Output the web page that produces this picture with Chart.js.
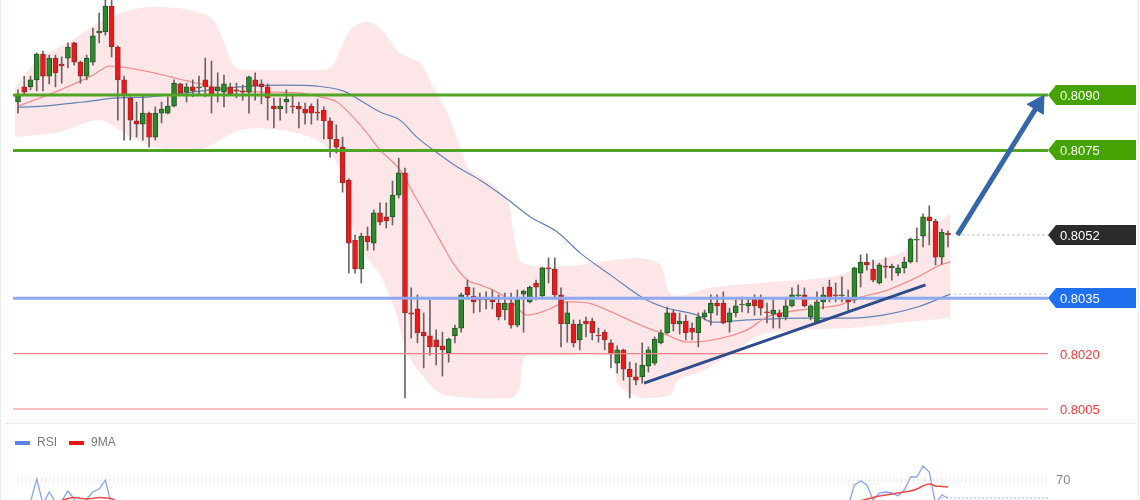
<!DOCTYPE html>
<html>
<head>
<meta charset="utf-8">
<script src="https://cdn.jsdelivr.net/npm/chart.js@4.4.1/dist/chart.umd.min.js"></script>
<style>
html,body{margin:0;padding:0;background:#fff;}
#wrap{position:relative;width:1140px;height:500px;overflow:hidden;background:#fff;}
#c1{position:absolute;left:0;top:0;}
#c2{position:absolute;left:0;top:424px;}
.edgeL{position:absolute;left:0;top:0;width:1px;height:500px;background:#e4ece4;}
.edgeR{position:absolute;left:1138px;top:0;width:1px;height:500px;background:#e4ece4;}
.sep{position:absolute;left:6px;width:1130px;top:423px;border-top:1px dotted #e2d4d4;}
.sw{position:absolute;top:441px;width:15px;height:4px;}
.lt{position:absolute;top:435px;font:12px "Liberation Sans",Arial,sans-serif;color:#777;}
</style>
</head>
<body>
<div id="wrap">
<canvas id="c1" width="1140" height="424"></canvas>
<canvas id="c2" width="1140" height="76"></canvas>
<div class="edgeL"></div><div class="edgeR"></div>
<div class="sep"></div>
<div class="sw" style="left:15px;background:#5b84e8;"></div><div class="lt" style="left:37px;">RSI</div>
<div class="sw" style="left:69px;background:#ee1111;"></div><div class="lt" style="left:91px;">9MA</div>
</div>
<script>
// ---------- candle data (index 1..150) ----------
const openP = [0.80881,0.80922,0.80922,0.80941,0.81011,0.80951,0.81000,0.80984,0.81000,0.81041,
0.80989,0.80951,0.80989,0.81068,0.81071,0.81141,0.81030,0.80941,0.80892,0.80830,
0.80821,0.80851,0.80786,0.80851,0.80851,0.80870,0.80930,0.80908,0.80922,0.80919,
0.80941,0.80922,0.80911,0.80908,0.80922,0.80914,0.80911,0.80908,0.80941,0.80930,
0.80922,0.80870,0.80862,0.80881,0.80870,0.80870,0.80862,0.80870,0.80854,0.80859,
0.80830,0.80781,0.80759,0.80670,0.80507,0.80429,0.80518,0.80499,0.80581,0.80570,
0.80570,0.80629,0.80689,0.80310,0.80321,0.80258,0.80248,0.80237,0.80221,0.80202,
0.80248,0.80269,0.80380,0.80356,0.80348,0.80345,0.80350,0.80337,0.80318,0.80337,
0.80277,0.80361,0.80340,0.80391,0.80356,0.80432,0.80429,0.80359,0.80280,0.80280,
0.80237,0.80288,0.80288,0.80250,0.80258,0.80229,0.80174,0.80210,0.80158,0.80137,
0.80137,0.80166,0.80174,0.80229,0.80256,0.80310,0.80280,0.80288,0.80269,0.80256,
0.80299,0.80310,0.80337,0.80337,0.80285,0.80310,0.80332,0.80329,0.80348,0.80348,
0.80313,0.80307,0.80310,0.80299,0.80329,0.80356,0.80359,0.80299,0.80285,0.80340,
0.80380,0.80359,0.80356,0.80348,0.80345,0.80418,0.80448,0.80429,0.80391,0.80437,
0.80432,0.80418,0.80432,0.80448,0.80507,0.80518,0.80570,0.80559,0.80461,0.80526];
const highP = [0.80914,0.80951,0.80951,0.81014,0.81019,0.81008,0.81008,0.81003,0.81041,0.81043,
0.80992,0.81008,0.81081,0.81122,0.81157,0.81157,0.81033,0.80951,0.80895,0.80881,
0.80900,0.80854,0.80868,0.80881,0.80895,0.80941,0.80932,0.80932,0.80941,0.80951,
0.81000,0.80992,0.80960,0.80954,0.80932,0.80932,0.80927,0.80951,0.80960,0.80941,
0.80930,0.80892,0.80892,0.80914,0.80903,0.80881,0.80878,0.80876,0.80889,0.80868,
0.80838,0.80819,0.80786,0.80673,0.80521,0.80526,0.80543,0.80589,0.80608,0.80608,
0.80667,0.80729,0.80702,0.80378,0.80359,0.80310,0.80345,0.80264,0.80258,0.80242,
0.80277,0.80364,0.80399,0.80378,0.80364,0.80367,0.80372,0.80359,0.80364,0.80364,
0.80372,0.80372,0.80383,0.80399,0.80434,0.80459,0.80459,0.80378,0.80340,0.80291,
0.80291,0.80299,0.80296,0.80269,0.80264,0.80237,0.80221,0.80212,0.80177,0.80174,
0.80229,0.80218,0.80245,0.80264,0.80326,0.80318,0.80310,0.80304,0.80283,0.80310,
0.80318,0.80359,0.80359,0.80367,0.80323,0.80345,0.80353,0.80350,0.80359,0.80359,
0.80337,0.80345,0.80318,0.80353,0.80378,0.80386,0.80378,0.80332,0.80367,0.80380,
0.80399,0.80391,0.80407,0.80372,0.80434,0.80467,0.80470,0.80453,0.80445,0.80459,
0.80442,0.80440,0.80461,0.80513,0.80540,0.80578,0.80600,0.80564,0.80537,0.80532];
const lowP = [0.80851,0.80900,0.80914,0.80911,0.80911,0.80930,0.80922,0.80932,0.80973,0.80981,
0.80932,0.80941,0.80981,0.81041,0.81062,0.81003,0.80832,0.80778,0.80778,0.80786,
0.80778,0.80759,0.80778,0.80824,0.80849,0.80868,0.80900,0.80881,0.80895,0.80900,
0.80895,0.80851,0.80881,0.80868,0.80900,0.80892,0.80886,0.80851,0.80886,0.80876,
0.80832,0.80811,0.80832,0.80851,0.80851,0.80811,0.80821,0.80821,0.80832,0.80781,
0.80732,0.80743,0.80637,0.80418,0.80418,0.80391,0.80480,0.80480,0.80548,0.80540,
0.80548,0.80621,0.80080,0.80242,0.80229,0.80161,0.80196,0.80169,0.80139,0.80177,
0.80229,0.80258,0.80353,0.80310,0.80313,0.80321,0.80321,0.80291,0.80291,0.80269,
0.80272,0.80258,0.80337,0.80345,0.80350,0.80391,0.80353,0.80218,0.80231,0.80218,
0.80210,0.80245,0.80237,0.80231,0.80210,0.80161,0.80147,0.80128,0.80080,0.80115,
0.80120,0.80150,0.80169,0.80226,0.80253,0.80261,0.80253,0.80237,0.80237,0.80218,
0.80291,0.80277,0.80304,0.80280,0.80258,0.80299,0.80313,0.80310,0.80304,0.80304,
0.80283,0.80269,0.80269,0.80291,0.80326,0.80350,0.80326,0.80291,0.80283,0.80321,
0.80340,0.80340,0.80340,0.80318,0.80337,0.80380,0.80426,0.80394,0.80388,0.80405,
0.80399,0.80410,0.80418,0.80445,0.80448,0.80489,0.80494,0.80440,0.80442,0.80489];
const closeP = [0.80897,0.80908,0.80941,0.81011,0.80951,0.81000,0.80960,0.80979,0.81030,0.80989,
0.80951,0.81000,0.81060,0.81073,0.81141,0.81030,0.80941,0.80900,0.80832,0.80821,
0.80851,0.80786,0.80851,0.80862,0.80870,0.80932,0.80905,0.80922,0.80911,0.80922,
0.80922,0.80903,0.80922,0.80930,0.80903,0.80911,0.80908,0.80949,0.80924,0.80922,
0.80892,0.80862,0.80870,0.80889,0.80868,0.80862,0.80851,0.80851,0.80851,0.80830,
0.80781,0.80759,0.80662,0.80499,0.80429,0.80518,0.80502,0.80581,0.80556,0.80559,
0.80629,0.80689,0.80310,0.80307,0.80256,0.80248,0.80218,0.80218,0.80210,0.80239,
0.80269,0.80359,0.80359,0.80340,0.80345,0.80348,0.80340,0.80299,0.80337,0.80277,
0.80348,0.80369,0.80380,0.80380,0.80432,0.80429,0.80359,0.80280,0.80310,0.80229,
0.80280,0.80280,0.80256,0.80248,0.80237,0.80199,0.80210,0.80158,0.80137,0.80128,
0.80169,0.80210,0.80239,0.80256,0.80310,0.80280,0.80288,0.80256,0.80258,0.80299,
0.80310,0.80337,0.80329,0.80283,0.80310,0.80329,0.80334,0.80337,0.80329,0.80323,
0.80310,0.80318,0.80299,0.80329,0.80359,0.80359,0.80329,0.80329,0.80340,0.80359,
0.80350,0.80356,0.80359,0.80340,0.80432,0.80448,0.80440,0.80399,0.80440,0.80434,
0.80437,0.80432,0.80448,0.80510,0.80510,0.80570,0.80559,0.80461,0.80529,0.80521];

// ---------- indicator lines: [candle index, price] ----------
const bandUpper = [[0.5,0.80919],[4.5,0.81000],[9.3,0.81044],[13.3,0.81090],[15.7,0.81111],[19.0,0.81130],[22.2,0.81138],[27.0,0.81135],[30.2,0.81122],[32.3,0.81103],[34.2,0.81035],[35.8,0.80976],[39.8,0.80968],[46.2,0.80968],[51.0,0.80973],[52.6,0.81022],[54.2,0.81076],[56.6,0.81098],[59.0,0.81081],[62.2,0.81014],[65.4,0.80987],[67.5,0.80922],[69.8,0.80851],[71.8,0.80759],[73.4,0.80697],[76.6,0.80664],[79.4,0.80616],[80.6,0.80507],[81.9,0.80445],[89.0,0.80437],[94.3,0.80448],[100.7,0.80459],[103.9,0.80440],[105.8,0.80359],[112.4,0.80380],[119.9,0.80391],[126.3,0.80399],[132.7,0.80413],[137.5,0.80448],[142.3,0.80472],[146.7,0.80526],[150.4,0.80581]];
const bandLower = [[0.5,0.80786],[7.7,0.80800],[14.1,0.80832],[19.0,0.80786],[23.8,0.80756],[30.2,0.80751],[36.6,0.80805],[43.0,0.80805],[49.4,0.80773],[52.6,0.80697],[54.2,0.80562],[56.6,0.80467],[59.0,0.80413],[61.4,0.80318],[63.3,0.80202],[65.9,0.80137],[68.6,0.80093],[71.8,0.80082],[80.3,0.80082],[81.4,0.80110],[82.3,0.80191],[87.9,0.80196],[95.9,0.80191],[97.2,0.80115],[100.7,0.80082],[105.5,0.80088],[106.8,0.80128],[110.3,0.80150],[115.1,0.80196],[119.9,0.80250],[126.3,0.80264],[134.3,0.80269],[142.3,0.80283],[150.4,0.80296]];
const maFast = [[1.0,0.80870],[5.0,0.80895],[8.9,0.80922],[13.0,0.80954],[15.7,0.80978],[17.4,0.80976],[22.2,0.80962],[27.4,0.80941],[32.3,0.80922],[35.5,0.80911],[40.9,0.80908],[46.2,0.80905],[49.4,0.80895],[52.1,0.80881],[54.7,0.80840],[56.9,0.80797],[59.0,0.80751],[62.2,0.80697],[64.3,0.80635],[66.5,0.80570],[68.6,0.80507],[70.7,0.80445],[73.0,0.80399],[75.0,0.80386],[77.1,0.80372],[79.8,0.80345],[82.6,0.80304],[85.8,0.80318],[89.0,0.80340],[92.2,0.80337],[96.4,0.80310],[100.7,0.80277],[105.0,0.80250],[108.2,0.80231],[112.4,0.80237],[117.8,0.80264],[121.0,0.80299],[126.3,0.80318],[132.7,0.80332],[135.5,0.80350],[140.3,0.80372],[145.1,0.80407],[148.8,0.80440],[150.4,0.80448]];
const maSlow = [[1.0,0.80867],[5.0,0.80870],[11.4,0.80881],[16.9,0.80892],[22.2,0.80895],[27.4,0.80905],[32.9,0.80916],[38.2,0.80924],[43.5,0.80927],[48.9,0.80924],[53.1,0.80911],[55.8,0.80886],[59.0,0.80854],[62.2,0.80832],[64.9,0.80786],[68.2,0.80743],[71.4,0.80705],[75.0,0.80670],[79.4,0.80618],[83.1,0.80570],[87.4,0.80529],[91.1,0.80472],[96.4,0.80407],[101.2,0.80350],[104.4,0.80326],[109.8,0.80304],[112.4,0.80285],[117.8,0.80291],[126.3,0.80296],[134.3,0.80296],[139.6,0.80304],[145.1,0.80326],[150.4,0.80361]];

// ---------- drawn annotations ----------
const greenLevels = [0.8090, 0.8075];
const blueLevel = 0.8035;
const redLevels = [0.8020, 0.8005];
const trendLine = [[101.3,0.80120],[146.4,0.80386]];
const arrowLine = [[151.5,0.80521],[164.45,0.80874]];
const lastPriceLine = [[151.5,0.80521]];
const slowMaTail = [[151.0,0.80361]];
const labelValues = [0.8090, 0.8075, 0.80521, 0.8035, 0.8020, 0.8005];
const labelTexts  = ['0.8090','0.8075','0.8052','0.8035','0.8020','0.8005'];
const labelKinds  = ['green','green','black','blue','text','text'];

// ---------- RSI pane ----------
const rsiIdx = [1,2,3,4,5,6,7,8,9,10,11,12,13,14,15,16,17, 133,134,135,136,137,138,139,140,141,142,143,144,145,146,147,148,149,150];
const rsiVal = [54,56,59,70.5,58,64,59,59.5,64.5,60.5,56,60.5,64,65.5,70,57,48, 55,57,67.5,69.5,67.5,60,63.5,64,63.5,62,65,71.5,71.5,77,74,58,62.5,61];
const rsiMaIdx = [7,8,9,10,11,12,13,14,15,16,17, 135,136,137,138,139,140,141,142,143,144,145,146,147,148,149,150];
const rsiMaVal = [58.5,59.8,60.8,61.2,60.8,60.5,60.8,61.2,61,60.6,59.5, 58,59.5,60.5,61.3,62,62.5,63,63.5,64,64.5,65.5,67,68,67,66.8,66.5];
const rsiLevel = 70;
const rsiLast = 61;

// ---------- scales ----------
const X_MIN = 0.199, X_MAX = 166.02;
const Y_MIN = 0.8000939, Y_MAX = 0.8115717;

const pts = arr => arr.map(p => ({x:p[0], y:p[1]}));
const hline = (v, x0) => [{x:(x0===undefined?X_MIN:x0), y:v},{x:X_MAX, y:v}];
const up = closeP.map((c,i)=> c >= openP[i]);

const wickData = highP.map((h,i)=>({x:i+1, y:[lowP[i], h]}));
const bodyData = closeP.map((c,i)=>({x:i+1, y:[openP[i], c]}));

const lineBase = {type:'line', pointRadius:0, pointHoverRadius:0, fill:false};

const labelPlugin = {
  id:'levelLabels',
  afterDraw(chart){
    const ctx = chart.ctx, ys = chart.scales.y, area = chart.chartArea;
    const colors = {green:'#45a300', black:'#2b2b2b', blue:'#1f6ff0'};
    ctx.save();
    ctx.font = '13px "Liberation Sans", Arial, sans-serif';
    ctx.textBaseline = 'middle';
    labelValues.forEach((v,i)=>{
      const yc = Math.round(ys.getPixelForValue(v));
      const x0 = area.right;
      const kind = labelKinds[i];
      if (kind !== 'text') {
        ctx.fillStyle = colors[kind];
        ctx.beginPath();
        ctx.moveTo(x0, yc);
        ctx.lineTo(x0+8, yc-10);
        ctx.lineTo(1136, yc-10);
        ctx.lineTo(1136, yc+10);
        ctx.lineTo(x0+8, yc+10);
        ctx.closePath();
        ctx.fill();
        ctx.fillStyle = '#ffffff';
      } else {
        ctx.fillStyle = '#f23a3a';
      }
      ctx.fillText(labelTexts[i], x0+12, yc+1);
    });
    ctx.restore();
  }
};

new Chart(document.getElementById('c1'), {
  type:'bar',
  data:{ datasets:[
    {...lineBase, data:pts(bandUpper), borderWidth:0, borderColor:'rgba(0,0,0,0)', backgroundColor:'rgba(250,185,192,0.36)', fill:'+1', tension:0.3, order:20},
    {...lineBase, data:pts(bandLower), borderWidth:0, borderColor:'rgba(0,0,0,0)', tension:0.3, order:20},
    {...lineBase, data:pts(maFast), borderColor:'#f29090', borderWidth:1.3, cubicInterpolationMode:'monotone', order:15},
    {...lineBase, data:pts(maSlow), borderColor:'#6282b5', borderWidth:1.2, cubicInterpolationMode:'monotone', order:15},
    {type:'bar', data:wickData, grouped:false, barThickness:1, backgroundColor:'#6b6363', borderWidth:0, order:10},
    {type:'bar', data:bodyData, grouped:false, barThickness:5, borderSkipped:false,
      backgroundColor:up.map(u=>u?'#2c8a2c':'#ea1a1a'), borderColor:up.map(u=>u?'#1f5520':'#9a2a2a'), borderWidth:1, order:9},
    {...lineBase, data:hline(greenLevels[0]), borderColor:'#50a524', borderWidth:3, order:2},
    {...lineBase, data:hline(greenLevels[1]), borderColor:'#50a524', borderWidth:3, order:2},
    {...lineBase, data:hline(blueLevel), borderColor:'#8fa9f0', borderWidth:3, order:2},
    {...lineBase, data:hline(redLevels[0]), borderColor:'#f28484', borderWidth:1.2, order:2},
    {...lineBase, data:hline(redLevels[1]), borderColor:'#f28484', borderWidth:1.2, order:2},
    {...lineBase, data:hline(lastPriceLine[0][1], lastPriceLine[0][0]), borderColor:'#a8a8a8', borderWidth:1, borderDash:[2,3], order:2},
    {...lineBase, data:hline(slowMaTail[0][1], slowMaTail[0][0]), borderColor:'#9fb2d2', borderWidth:1, borderDash:[2,3], order:2},
    {...lineBase, data:pts(trendLine), borderColor:'#2c4c8c', borderWidth:3, order:1},
    {...lineBase, data:pts(arrowLine), borderColor:'#3566a8', borderWidth:5, borderCapStyle:'butt',
      pointRadius:[0,11], pointStyle:'triangle', pointRotation:32, pointBackgroundColor:'#3566a8', pointBorderColor:'#3566a8', pointBorderWidth:1, order:0}
  ]},
  options:{
    responsive:false, animation:false, events:[],
    layout:{autoPadding:false, padding:{left:13, right:92, top:0, bottom:0}},
    scales:{
      x:{type:'linear', min:X_MIN, max:X_MAX, display:false, offset:false},
      y:{type:'linear', min:Y_MIN, max:Y_MAX, display:false}
    },
    plugins:{legend:{display:false}, tooltip:{enabled:false}}
  },
  plugins:[labelPlugin]
});

const rsiLabelPlugin = {
  id:'rsiLabel',
  afterDraw(chart){
    const ctx = chart.ctx, ys = chart.scales.y, area = chart.chartArea;
    ctx.save();
    ctx.font = '13px "Liberation Sans", Arial, sans-serif';
    ctx.fillStyle = '#888';
    ctx.textBaseline = 'middle';
    ctx.fillText(String(rsiLevel), area.right + 8, Math.round(ys.getPixelForValue(rsiLevel)));
    ctx.restore();
  }
};

new Chart(document.getElementById('c2'), {
  type:'line',
  data:{ datasets:[
    {...lineBase, data:hline(rsiLevel), borderColor:'#bcbcbc', borderWidth:1, borderDash:[1,3], order:5},
    {...lineBase, data:hline(rsiLast, 149), borderColor:'#a9bdf0', borderWidth:1.2, borderDash:[2,2], order:4},
    {...lineBase, data:rsiIdx.map((x,i)=>({x, y:rsiVal[i]})), borderColor:'#86a3ee', borderWidth:1.3, tension:0, order:2},
    {...lineBase, data:rsiMaIdx.map((x,i)=>({x, y:rsiMaVal[i]})), borderColor:'#f04848', borderWidth:1.5, cubicInterpolationMode:'monotone', order:1}
  ]},
  options:{
    responsive:false, animation:false, events:[],
    layout:{autoPadding:false, padding:{left:13, right:92, top:0, bottom:0}},
    scales:{
      x:{type:'linear', min:X_MIN, max:X_MAX, display:false},
      y:{type:'linear', min:60, max:98, display:false}
    },
    plugins:{legend:{display:false}, tooltip:{enabled:false}}
  },
  plugins:[rsiLabelPlugin]
});
</script>
</body>
</html>
